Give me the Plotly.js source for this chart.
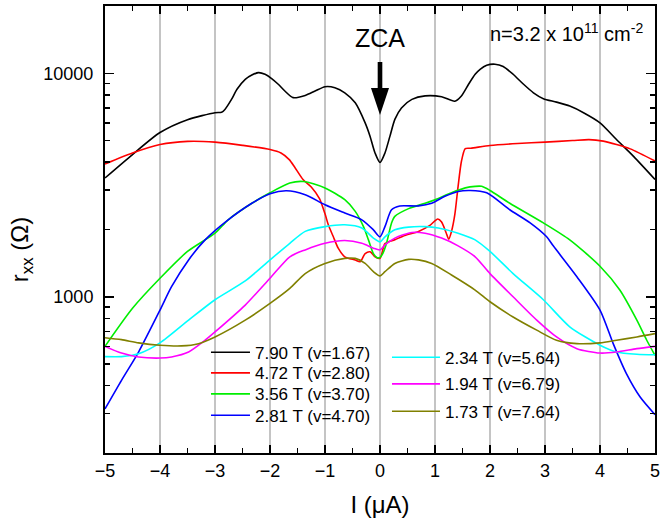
<!DOCTYPE html>
<html>
<head>
<meta charset="utf-8">
<script src="https://cdn.plot.ly/plotly-3.0.1.min.js"></script>
<style>html,body{margin:0;padding:0;background:#fff;}#chart{width:660px;height:523px;}</style>
</head>
<body>
<div id="chart"></div>
<script>
// current (uA) and resistance r_xx (Ohm) for each magnetic field
const I_790 = [-5,-4.5,-4,-3.5,-3,-2.88,-2.82,-2.7,-2.6,-2.45,-2.33,-2.21,-2.09,-1.97,-1.85,-1.73,-1.58,-1.36,-1.18,-1,-0.82,-0.64,-0.45,-0.27,-0.18,-0.09,0,0.09,0.18,0.27,0.39,0.58,0.82,1.12,1.36,1.48,1.61,1.73,1.82,1.94,2.09,2.24,2.42,2.61,2.79,2.97,3.21,3.45,3.7,4,4.3,4.61,5];
const R_790 = [3400,4330,5430,6200,6660,6700,6890,7640,8480,9400,9820,10070,9900,9470,8930,8330,7780,7960,8330,8710,8620,8180,7380,6000,5220,4400,3990,4400,5220,6220,7000,7640,7920,7850,7500,7920,8930,9900,10420,10860,10980,10720,9900,8930,8180,7700,7430,7130,6660,6000,5055,4250,3350];

const I_472 = [-5,-4.5,-4,-3.5,-3,-2.5,-2,-1.8,-1.65,-1.55,-1.4,-1.25,-1.1,-1.0,-0.94,-0.85,-0.76,-0.64,-0.45,-0.36,-0.27,-0.18,-0.09,0,0.09,0.27,0.45,0.7,0.9,1.05,1.12,1.2,1.25,1.3,1.36,1.42,1.48,1.55,1.65,2,2.5,3,3.5,3.8,4.06,4.3,4.55,5];
const R_472 = [3930,4400,4800,4960,4920,4760,4560,4400,4110,3800,3350,3100,2750,2350,2100,1860,1650,1510,1460,1435,1560,1590,1510,1485,1730,1800,1880,1960,2080,2230,2160,1940,1810,1960,2330,3120,4030,4600,4620,4750,4850,4920,5000,5050,4970,4800,4590,4050];

const I_356 = [-5,-4.5,-4,-3.5,-3,-2.76,-2.33,-2,-1.64,-1.39,-1,-0.64,-0.45,-0.3,-0.21,-0.12,-0.05,0,0.05,0.12,0.21,0.27,0.52,0.82,1,1.3,1.55,1.73,1.85,2,2.36,2.97,3.45,4,4.36,4.67,4.85,5];
const R_356 = [600,888,1210,1595,1925,2210,2620,2920,3230,3280,3070,2718,2410,2060,1797,1560,1495,1500,1560,1740,2140,2290,2480,2620,2718,2920,3070,3120,3120,2990,2620,2140,1797,1370,1072,786,639,547];

const I_281 = [-5,-4.7,-4.39,-4,-3.79,-3.48,-3.18,-2.79,-2.33,-2,-1.7,-1.36,-1,-0.64,-0.33,-0.12,0,0.09,0.21,0.36,0.7,0.94,1.18,1.42,1.64,1.94,2.36,2.73,3.03,3.15,3.58,4,4.24,4.48,4.73,5];
const R_281 = [315,423,566,872,1110,1462,1797,2180,2620,2890,2980,2862,2581,2370,2210,1993,1855,2060,2451,2550,2550,2620,2815,2960,2990,2920,2451,2140,1855,1690,1230,872,617,453,356,297];

const I_234 = [-5,-4.7,-4.39,-4,-3.48,-3,-2.45,-2,-1.64,-1.36,-1,-0.64,-0.33,-0.12,0,0.09,0.27,0.52,0.82,1.06,1.42,1.73,2,2.42,2.97,3.45,4,4.3,4.67,5];
const R_234 = [540,540,556,622,786,970,1177,1462,1735,1962,2060,2099,2030,1830,1760,1855,1993,2050,2060,2030,1925,1797,1595,1270,970,734,607,566,553,550];

const I_194 = [-5,-4.7,-4.39,-4,-3.79,-3.48,-3.18,-3,-2.45,-2,-1.64,-1.36,-1,-0.64,-0.33,-0.12,0,0.09,0.27,0.58,0.82,1.12,1.42,1.73,2,2.42,2.85,3.21,3.58,4,4.3,4.67,5];
const R_194 = [600,560,538,532,538,566,639,696,918,1210,1510,1621,1735,1785,1735,1650,1621,1707,1830,1940,1925,1830,1690,1510,1270,1000,786,661,586,560,566,586,600];

const I_173 = [-5,-4.7,-4.39,-4,-3.61,-3.3,-3,-2.45,-2,-1.64,-1.36,-1,-0.64,-0.45,-0.27,-0.12,0,0.09,0.27,0.52,0.7,0.94,1.3,1.73,2,2.42,2.85,3.21,3.58,4,4.3,4.67,5];
const R_173 = [656,643,622,607,603,617,661,786,934,1090,1270,1410,1485,1485,1410,1295,1240,1295,1410,1470,1462,1410,1252,1072,950,812,709,639,617,622,639,661,684];

const seriesNames = ['7.90 T (v=1.67)','4.72 T (v=2.80)','3.56 T (v=3.70)','2.81 T (v=4.70)','2.34 T (v=5.64)','1.94 T (v=6.79)','1.73 T (v=7.64)'];
const seriesColors = ['#000000','#ff0000','#00ee00','#0000ff','#00ffff','#ff00ff','#808000'];
const xTickVals = [-5,-4,-3,-2,-1,0,1,2,3,4,5];
const yTickVals = [1000,10000];
const yTickText = ['1000','10000'];
const yMinorVals = [200,300,400,500,600,700,800,900,2000,3000,4000,5000,6000,7000,8000,9000,20000];

const xs = [I_790,I_472,I_356,I_281,I_234,I_194,I_173];
const ys = [R_790,R_472,R_356,R_281,R_234,R_194,R_173];
const legendIds = ['legend','legend2','legend3','legend4','legend5','legend6','legend7'];

const traces = xs.map((x,i)=>({
  x: x, y: ys[i], type:'scatter', mode:'lines', name: seriesNames[i],
  line:{color: seriesColors[i], width:1.6, shape:'spline', smoothing:0.7},
  legend: legendIds[i]
}));

const font = 'Arial, "Liberation Sans", Helvetica, sans-serif';
// legend item positions (paper)
const legX = [0.1836,0.1836,0.1836,0.1836,0.5127,0.5127,0.5127];
const legY = [0.2244,0.1783,0.1313,0.0834,0.2132,0.1537,0.0924];
const legW = [39,39,39,39,48,48,48];

const layout = {
  width:660, height:523,
  margin:{l:105, r:5, t:6, b:70},
  paper_bgcolor:'#fff', plot_bgcolor:'#fff',
  font:{family:font, color:'#000'},
  showlegend:true,
  xaxis:{
    range:[-5,5], tickmode:'array', tickvals:xTickVals,
    ticks:'inside', ticklen:8, tickwidth:1.5, tickcolor:'#000',
    showline:true, linewidth:2, linecolor:'#000', mirror:'allticks',
    showgrid:true, gridcolor:'#c4c4c4', gridwidth:1.5, zeroline:false,
    tickfont:{size:18, family:font, color:'#000'},
    ticklabeloverflow:'allow',
    minor:{tickmode:'array', tickvals:[-4.5,-3.5,-2.5,-1.5,-0.5,0.5,1.5,2.5,3.5,4.5], ticks:'inside', ticklen:5, tickwidth:1.5, tickcolor:'#000', showgrid:false},
    title:{text:'I (\u03bcA)', font:{size:24, family:font, color:'#000'}, standoff:17}
  },
  yaxis:{
    type:'log', range:[Math.log10(200), Math.log10(20000)],
    tickmode:'array', tickvals:yTickVals, ticktext:yTickText,
    ticks:'inside', ticklen:9, tickwidth:1.5, tickcolor:'#000',
    showline:true, linewidth:2, linecolor:'#000', mirror:'allticks',
    showgrid:false, zeroline:false,
    tickfont:{size:18, family:font, color:'#000'},
    ticklabelstandoff:6,
    minor:{tickmode:'array', tickvals:yMinorVals, ticks:'inside', ticklen:5, tickwidth:1.5, tickcolor:'#000', showgrid:false},
    title:{text:'r<sub>xx</sub> (\u03a9)<span style="color:rgba(0,0,0,0)">mm</span>', font:{size:24, family:font, color:'#000'}, standoff:8}
  },
  annotations:[
    {xref:'x', yref:'paper', x:0, y:0.928, text:'ZCA', showarrow:false, font:{size:25, family:font, color:'#000'}, xanchor:'center', yanchor:'middle'},
    {xref:'paper', yref:'paper', x:0.9818, y:0.9396, xanchor:'right', yanchor:'middle', showarrow:false,
     text:'n=3.2 x 10<sup>11</sup> cm<sup>-2</sup>', font:{size:20, family:font, color:'#000'}}
  ],
  shapes:[
    {type:'path', xref:'paper', yref:'paper', fillcolor:'#000', line:{width:0},
     path:'M0.4958,0.8747 L0.5042,0.8747 L0.5042,0.8166 L0.5164,0.8166 L0.5,0.7562 L0.4836,0.8166 L0.4958,0.8166 Z'}
  ]
};
legendIds.forEach((id,i)=>{
  layout[id] = {x:legX[i], y:legY[i], xanchor:'left', yanchor:'middle', bgcolor:'rgba(0,0,0,0)', borderwidth:0,
    itemwidth:legW[i], font:{size:17, family:font, color:'#000'}};
});

Plotly.newPlot('chart', traces, layout, {displayModeBar:false, staticPlot:true});
</script>
</body>
</html>
